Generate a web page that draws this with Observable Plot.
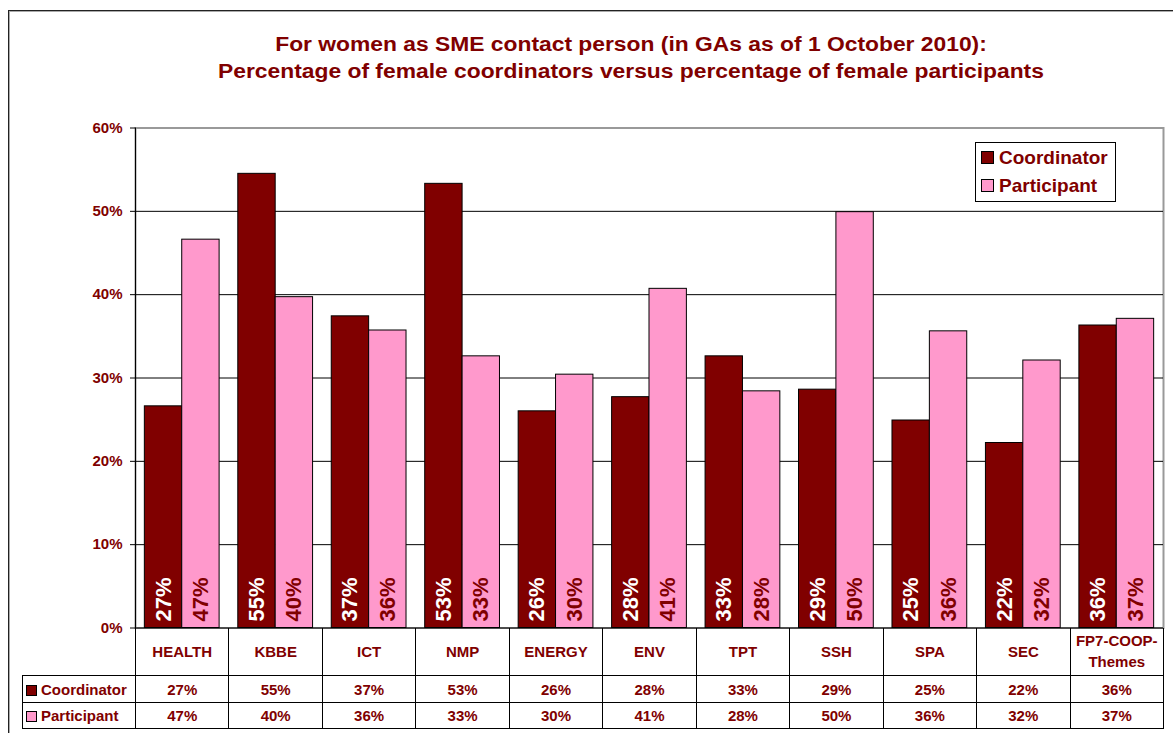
<!DOCTYPE html>
<html>
<head>
<meta charset="utf-8">
<script src="https://cdn.jsdelivr.net/npm/d3@7"></script>
<script src="https://cdn.jsdelivr.net/npm/@observablehq/plot@0.6"></script>
<style>
  body { margin: 0; background: #fff; font-family: "Liberation Sans", Arial, sans-serif; }
  #wrap { position: relative; width: 1173px; height: 733px; overflow: hidden; background: #fff; }
  #border { position: absolute; left: 8px; top: 10px; width: 1300px; height: 900px; border-left: 1px solid #222; border-top: 1px solid #222; box-shadow: inset 1px 1px 0 #aaa; }
  #title { position: absolute; left: 0; top: 31px; width: 1262px; text-align: center; font-weight: bold; font-size: 19.6px; line-height: 27px; color: #800000; transform: scaleX(1.165); transform-origin: 631px 0; }
  #chart { position: absolute; left: 0; top: 100px; }
  #legend { position: absolute; left: 975px; top: 142px; width: 139px; height: 57px; border: 1px solid #000; background: #fff; padding-top: 1.4px; box-sizing: content-box; }
  #legend .item { font-weight: bold; font-size: 19px; line-height: 28px; color: #800000; padding-left: 5px; white-space: nowrap; }
  .sw { display: inline-block; box-sizing: border-box; border: 1px solid #000; }
  #legend .sw { width: 13px; height: 13px; margin-right: 5px; }
  #table { position: absolute; left: 22px; top: 627.5px; border-collapse: collapse; table-layout: fixed; }
  #table td, #table th { padding: 0; text-align: center; font-weight: bold; font-size: 15px; color: #800000; }
  #table th { border-left: 1px solid #000; border-right: 1px solid #000; border-bottom: 1px solid #000; line-height: 21px; font-weight: bold; }
  #table th.blank { border: none; }
  #table td { border: 1px solid #000; }
  #table td.lab { text-align: left; padding-left: 3px; white-space: nowrap; }
  #table td.lab .sw { width: 11px; height: 11px; margin-right: 4px; vertical-align: -1px; }
  #table tr.hdr { height: 48px; }
  #table tr.r1 { height: 27px; }
  #table tr.r2 { height: 26px; }
  svg g[aria-label="y-axis tick label"] text { font-weight: bold; }
</style>
</head>
<body>
<div id="wrap">
  <div id="border"></div>
  <div id="title"></div>
  <div id="chart"></div>
  <table id="table"></table>
  <div id="legend"></div>
</div>
<script>
// ---- data ----
const categories = ["HEALTH", "KBBE", "ICT", "NMP", "ENERGY", "ENV", "TPT", "SSH", "SPA", "SEC", "FP7-COOP-Themes"];
const coordinator = [0.266, 0.545, 0.374, 0.533, 0.260, 0.277, 0.326, 0.286, 0.249, 0.222, 0.363];
const participant = [0.466, 0.397, 0.357, 0.326, 0.304, 0.407, 0.284, 0.499, 0.356, 0.321, 0.371];
const series = ["Coordinator", "Participant"];
const seriesColors = ["#800000", "#FF99CC"];
const yTicks = [0, 0.1, 0.2, 0.3, 0.4, 0.5, 0.6];
const titleLines = [
  "For women as SME contact person (in GAs as of 1 October 2010):",
  "Percentage of female coordinators versus percentage of female participants"
];

// ---- layout ----
const FONT = "'Liberation Sans', Arial, sans-serif";
const W = 1173, H = 633, ML = 135, MR = 10, MT = 27.5, MB = 105.5;
const bw = (W - ML - MR) / categories.length;
const fmt = d3.format(".0%");
const DARK = "#800000";

const coordRows = categories.map((c, i) => ({cat: c, series: "Coordinator", value: coordinator[i]}));
const partRows = categories.map((c, i) => ({cat: c, series: "Participant", value: participant[i]}));

document.getElementById("title").innerHTML = titleLines.map(t => `<div>${t}</div>`).join("");

const plot = Plot.plot({
  width: W, height: H,
  marginTop: MT, marginBottom: MB, marginLeft: ML, marginRight: MR,
  style: {fontFamily: FONT, background: "transparent", overflow: "visible"},
  x: {domain: categories, padding: 0, round: false, axis: null},
  y: {domain: [0, 0.6], axis: null},
  color: {domain: series, range: seriesColors},
  marks: [
    Plot.frame({stroke: "#999", strokeWidth: 2}),
    Plot.ruleY(yTicks.filter(t => t > 0 && t < 0.6), {stroke: "#000", strokeWidth: 1}),
    Plot.barY(coordRows, {x: "cat", y: "value", fill: "series", stroke: "#000", strokeWidth: 1, insetLeft: 0.1 * bw, insetRight: 0.5 * bw}),
    Plot.barY(partRows, {x: "cat", y: "value", fill: "series", stroke: "#000", strokeWidth: 1, insetLeft: 0.5 * bw, insetRight: 0.1 * bw}),
    Plot.ruleY([0], {stroke: "#000", strokeWidth: 1}),
    Plot.frame({anchor: "left", stroke: "#000", strokeWidth: 1}),
    Plot.axisY({ticks: yTicks, tickFormat: fmt, tickSize: 5, tickPadding: 8, fontSize: 15, fontWeight: "bold", fill: DARK, stroke: "#000", label: null}),
    Plot.text(coordRows, {x: "cat", y: () => 0, dx: -0.2 * bw, dy: -6.5, rotate: -90, text: d => fmt(d.value), textAnchor: "start", lineAnchor: "middle", fill: "#fff", fontSize: 22, fontWeight: "bold"}),
    Plot.text(partRows, {x: "cat", y: () => 0, dx: 0.2 * bw, dy: -6.5, rotate: -90, text: d => fmt(d.value), textAnchor: "start", lineAnchor: "middle", fill: DARK, fontSize: 22, fontWeight: "bold"})
  ]
});
document.getElementById("chart").appendChild(plot);

// ---- data table aligned to the x scale ----
const xs = plot.scale("x");
const step = xs.bandwidth;
const firstLeft = xs.apply(categories[0]);
const table = d3.select("#table");
const colg = table.append("colgroup");
colg.append("col").style("width", (firstLeft - 22) + "px");
categories.forEach(() => colg.append("col").style("width", step + "px"));
table.style("width", (firstLeft - 22 + step * categories.length) + "px");
const hdr = table.append("tr").attr("class", "hdr");
hdr.append("th").attr("class", "blank");
categories.forEach(c => hdr.append("th").text(c));
[[coordinator, 0, "r1"], [participant, 1, "r2"]].forEach(([vals, k, cls]) => {
  const tr = table.append("tr").attr("class", cls);
  const lab = tr.append("td").attr("class", "lab");
  lab.append("span").attr("class", "sw").style("background", seriesColors[k]);
  lab.append("span").text(series[k]);
  vals.forEach(v => tr.append("td").text(fmt(v)));
});

// ---- legend ----
const leg = d3.select("#legend");
series.forEach((s, k) => {
  const it = leg.append("div").attr("class", "item");
  it.append("span").attr("class", "sw").style("background", seriesColors[k]);
  it.append("span").text(s);
});
</script>
</body>
</html>
